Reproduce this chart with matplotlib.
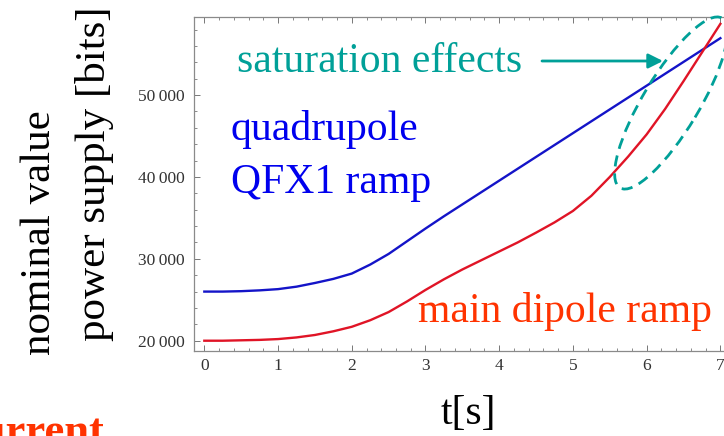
import matplotlib
matplotlib.use('Agg')
import matplotlib.pyplot as plt
from matplotlib.patches import Ellipse
from matplotlib.ticker import MultipleLocator, FuncFormatter

# time axis [s] and the two ramps (nominal power supply value in bits)
t = [0, 0.25, 0.5, 0.75, 1, 1.25, 1.5, 1.75, 2, 2.25, 2.5, 2.75, 3, 3.25, 3.5,
     3.75, 4, 4.25, 4.5, 4.75, 5, 5.25, 5.5, 5.75, 6, 6.25, 6.5, 6.75, 7]
quad_qfx1 = [26000, 26000, 26050, 26150, 26300, 26600, 27050, 27550, 28200, 29300,
             30600, 32150, 33700, 35200, 36650, 38100, 39550, 41000, 42450, 43900,
             45350, 46800, 48250, 49700, 51150, 52600, 54050, 55500, 56950]
main_dipole = [20000, 20000, 20050, 20100, 20200, 20400, 20700, 21150, 21700, 22500,
               23500, 24800, 26200, 27500, 28700, 29800, 30900, 32000, 33200, 34450,
               35850, 37700, 40000, 42500, 45200, 48300, 51700, 55200, 58700]
x_ticks = [0, 1, 2, 3, 4, 5, 6, 7]
y_ticks = [20000, 30000, 40000, 50000]

W, H = 724, 436
serif = ['Liberation Serif', 'DejaVu Serif']
teal = '#00a098'

fig = plt.figure(figsize=(W / 100, H / 100), dpi=100)
ax = fig.add_axes([194 / W, 1 - 350.7 / H, (742.5 - 194) / W, (350.7 - 17.3) / H])

ax.plot(t, quad_qfx1, color='#1414c8', lw=1.7)
ax.plot(t, main_dipole, color='#e01426', lw=1.7)

ax.set_xlim(-0.14, 7.3)
ax.set_ylim(18780, 59500)
ax.set_xticks(x_ticks)
ax.set_yticks(y_ticks)
ax.xaxis.set_minor_locator(MultipleLocator(0.2))
ax.yaxis.set_minor_locator(MultipleLocator(2000))
ax.yaxis.set_major_formatter(FuncFormatter(lambda v, p: f"{int(v) // 1000}\u2009000"))

ax.tick_params(which='both', direction='in', top=True, right=True, color='#777777')
ax.tick_params(which='major', length=4, width=0.7, labelsize=12.5, labelcolor='#333333')
ax.tick_params(which='minor', length=2.2, width=0.6)
ax.tick_params(axis='y', pad=7)
ax.tick_params(axis='x', pad=5)
for lab in ax.get_xticklabels() + ax.get_yticklabels():
    lab.set_family(serif)
for s in ax.spines.values():
    s.set_color('#8a8a8a')
    s.set_linewidth(0.9)

# axis titles
fig.text(40 / W, 1 - 233 / H, 'nominal value', rotation=90, ha='center', va='center',
         fontsize=31, family=serif, color='black')
fig.text(95 / W, 1 - 174 / H, 'power supply [bits]', rotation=90, ha='center', va='center',
         fontsize=31, family=serif, color='black')
fig.text(468 / W, 1 - 424 / H, 't[s]', ha='center', va='baseline', fontsize=30,
         family=serif, color='black')

# annotations
fig.text(231 / W, 1 - 140 / H, 'quadrupole', ha='left', va='baseline', fontsize=30,
         family=serif, color='#0000ee')
fig.text(231 / W, 1 - 193 / H, 'QFX1 ramp', ha='left', va='baseline', fontsize=30,
         family=serif, color='#0000ee')
fig.text(418 / W, 1 - 322 / H, 'main dipole ramp', ha='left', va='baseline', fontsize=30,
         family=serif, color='#ff3300')
fig.text(237 / W, 1 - 72 / H, 'saturation effects', ha='left', va='baseline', fontsize=30,
         family=serif, color=teal)
# label from the slide below, only its top shows in the crop
fig.text(104 / W, 1 - 444 / H, 'current', ha='right', va='baseline', fontsize=32,
         family=serif, weight='bold', color='#ff3300')

ax.annotate('', xy=(663, H - 61), xytext=(542, H - 61), xycoords='figure pixels',
            textcoords='figure pixels',
            arrowprops=dict(arrowstyle='-|>', color=teal, lw=2, mutation_scale=22,
                            shrinkA=0, shrinkB=0))

ell = Ellipse((6.71, (H - 103) / 100), width=1.98, height=0.56, angle=59,
              transform=fig.dpi_scale_trans, fill=False, edgecolor=teal, lw=2,
              linestyle=(0, (4, 2.5)))
fig.add_artist(ell)

fig.savefig('out.png', dpi=100)
